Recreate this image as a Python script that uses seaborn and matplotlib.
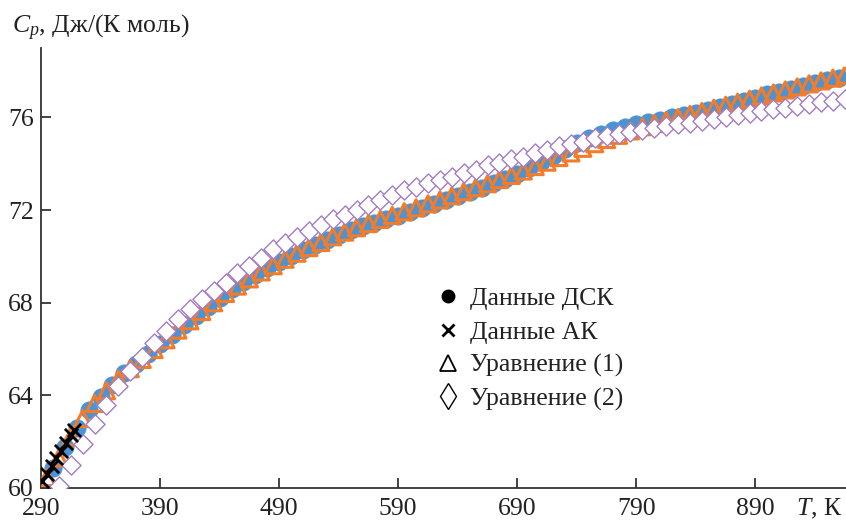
import numpy as np
import pandas as pd
import matplotlib
matplotlib.use("Agg")
import matplotlib.pyplot as plt
import seaborn as sns
from matplotlib.lines import Line2D

# ---------------- data ----------------
dsc_T = [300, 310, 320, 330, 340, 350, 360, 370, 380, 390, 400, 410, 420, 430, 440,
         450, 460, 470, 480, 490, 500, 510, 520, 530, 540, 550, 560, 570, 580, 590,
         600, 610, 620, 630, 640, 650, 660, 670, 680, 690, 700, 710, 720, 730, 740,
         750, 760, 770, 780, 790, 800, 810, 820, 830, 840, 850, 860, 870, 880, 890,
         900, 910, 920, 930, 940, 950, 960]
dsc_Cp = [60.85, 61.75, 62.6, 63.35, 63.95, 64.45, 64.95, 65.35, 65.8, 66.2, 66.62, 67.02,
          67.42, 67.82, 68.2, 68.58, 68.9, 69.2, 69.48, 69.76, 70.02, 70.27, 70.5, 70.72,
          70.93, 71.12, 71.3, 71.45, 71.6, 71.76, 71.92, 72.08, 72.25, 72.42, 72.6, 72.78,
          72.96, 73.15, 73.36, 73.58, 73.82, 74.08, 74.35, 74.62, 74.88, 75.1, 75.3, 75.45,
          75.58, 75.7, 75.8, 75.9, 76.0, 76.1, 76.2, 76.32, 76.45, 76.58, 76.72, 76.86,
          77.0, 77.12, 77.24, 77.36, 77.48, 77.6, 77.72]

ak_T = [291, 295, 299, 303, 307, 311, 315, 318]
ak_Cp = [60.3, 60.6, 60.95, 61.3, 61.6, 61.95, 62.3, 62.5]

eq_T = [295, 305, 315, 325, 335, 345, 355, 365, 375, 385, 395, 405, 415, 425, 435,
        445, 455, 465, 475, 485, 495, 505, 515, 525, 535, 545, 555, 565, 575, 585,
        595, 605, 615, 625, 635, 645, 655, 665, 675, 685, 695, 705, 715, 725, 735,
        745, 755, 765, 775, 785, 795, 805, 815, 825, 835, 845, 855, 865, 875, 885,
        895, 905, 915, 925, 935, 945, 955, 965]
eq1_Cp = [60.45, 61.3, 62.2, 63.0, 63.65, 64.2, 64.7, 65.15, 65.55, 65.98, 66.4, 66.82,
          67.22, 67.62, 68.0, 68.4, 68.72, 69.03, 69.33, 69.6, 69.88, 70.14, 70.38, 70.6,
          70.85, 71.05, 71.24, 71.42, 71.6, 71.77, 71.93, 72.1, 72.27, 72.44, 72.62, 72.8,
          72.97, 73.14, 73.32, 73.5, 73.69, 73.88, 74.07, 74.27, 74.47, 74.67, 74.87, 75.05,
          75.23, 75.42, 75.6, 75.74, 75.87, 76.0, 76.13, 76.26, 76.4, 76.53, 76.66, 76.79,
          76.93, 77.06, 77.19, 77.32, 77.45, 77.58, 77.7, 77.83]

eq2_T = [305, 315, 325, 335, 345, 355, 365, 375, 385, 395, 405, 415, 425, 435,
         445, 455, 465, 475, 485, 495, 505, 515, 525, 535, 545, 555, 565, 575, 585,
         595, 605, 615, 625, 635, 645, 655, 665, 675, 685, 695, 705, 715, 725, 735,
         745, 755, 765, 775, 785, 795, 805, 815, 825, 835, 845, 855, 865, 875, 885,
         895, 905, 915, 925, 935, 945, 955, 965]
eq2_Cp = [60.1, 61.0, 61.9, 62.75, 63.6, 64.4, 65.05, 65.65, 66.25, 66.8, 67.3, 67.75,
          68.15, 68.5, 68.85, 69.3, 69.6, 69.95, 70.3, 70.6, 70.85, 71.1, 71.35, 71.6,
          71.8, 72.0, 72.2, 72.45, 72.65, 72.85, 73.0, 73.15, 73.3, 73.45, 73.6, 73.75,
          73.95, 74.05, 74.2, 74.3, 74.45, 74.6, 74.75, 74.85, 74.95, 75.1, 75.2, 75.3,
          75.38, 75.47, 75.55, 75.63, 75.7, 75.78, 75.86, 75.95, 76.02, 76.1, 76.18,
          76.26, 76.35, 76.42, 76.5, 76.58, 76.65, 76.73, 76.8]

x_ticks = [290, 390, 490, 590, 690, 790, 890]
y_ticks = [60, 64, 68, 72, 76]
legend_labels = ["Данные ДСК", "Данные АК", "Уравнение (1)", "Уравнение (2)"]

# ---------------- style ----------------
sns.set_theme(style="white")
plt.rcParams['font.family'] = ['Liberation Serif', 'DejaVu Serif']
plt.rcParams['mathtext.fontset'] = 'custom'
plt.rcParams['mathtext.rm'] = 'Liberation Serif'
plt.rcParams['mathtext.it'] = 'Liberation Serif:italic'

FS = 18.5
TXT = '#222222'

fig = plt.figure(figsize=(8.46, 5.21), dpi=100)
ax = fig.add_axes([41 / 846, 33 / 521, 805 / 846, 440 / 521])

blue = "#4a94d6"
orange = "#f47c28"
purple = "#a27cc4"

sns.scatterplot(x=dsc_T, y=dsc_Cp, ax=ax, color=blue, s=155, marker='o',
                edgecolor=blue, linewidth=0.5, zorder=2)
sns.scatterplot(x=eq_T, y=eq1_Cp, ax=ax, marker='^', s=135, facecolor='none',
                edgecolor=orange, linewidth=2.2, zorder=3)
sns.scatterplot(x=eq2_T, y=eq2_Cp, ax=ax, marker='D', s=95, color='white',
                edgecolor=purple, linewidth=1.0, zorder=4)
sns.scatterplot(x=ak_T, y=ak_Cp, ax=ax, marker='x', s=90, color='black',
                linewidth=2.0, zorder=5)

ax.set_xlim(290, 966)
ax.set_ylim(60, 79)
ax.set_xticks(x_ticks)
ax.set_yticks(y_ticks)
ax.set_xlabel("")
ax.set_ylabel("")
ax.tick_params(direction='in', length=7, width=1.2, labelsize=FS, colors=TXT,
               bottom=True, left=True)
ax.tick_params(axis='x', pad=7)
ax.tick_params(axis='y', pad=5)
for s in ['top', 'right']:
    ax.spines[s].set_visible(False)
for s in ['left', 'bottom']:
    ax.spines[s].set_color('#333333')
    ax.spines[s].set_linewidth(1.3)

fig.text(12 / 846, 1 - 33 / 521, r"$C_p$, Дж/(К моль)", fontsize=FS,
         color=TXT, ha='left', va='baseline')
fig.text(842 / 846, 1 - 515 / 521, r"$T$, К", fontsize=FS,
         color=TXT, ha='right', va='baseline')

handles = [
    Line2D([], [], ls='none', marker='o', color='black', markersize=9),
    Line2D([], [], ls='none', marker='x', color='black', markersize=8, markeredgewidth=2),
    Line2D([], [], ls='none', marker='^', markerfacecolor='none',
           markeredgecolor='black', markersize=12, markeredgewidth=1.3),
    Line2D([], [], ls='none', marker='d', markerfacecolor='none',
           markeredgecolor='black', markersize=13, markeredgewidth=1.0),
]
leg = ax.legend(handles, legend_labels, loc='upper left',
                bbox_to_anchor=((425 - 41) / 805, (488 - 277) / 440),
                frameon=False, fontsize=FS, handlelength=1.0, handletextpad=0.36,
                labelspacing=0.4, borderaxespad=0)
for t in leg.get_texts():
    t.set_color(TXT)

fig.savefig("out.png", dpi=100)
